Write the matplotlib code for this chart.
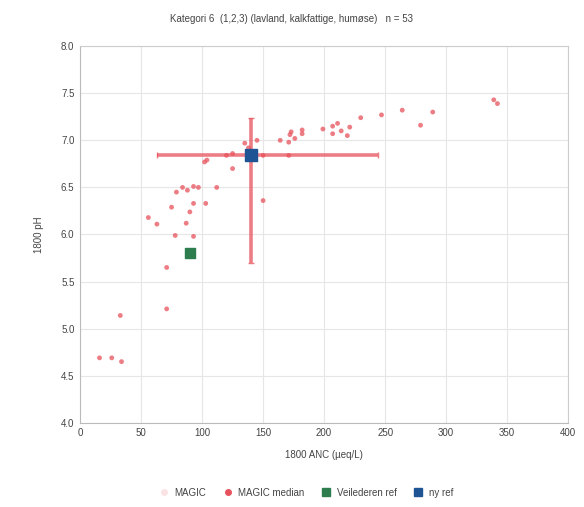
import matplotlib
matplotlib.use("Agg")
import matplotlib.pyplot as plt
from matplotlib.lines import Line2D

plt.rcParams['font.family'] = ['Liberation Sans', 'DejaVu Sans']

# MAGIC median points (ANC, pH)
anc = [145, 164, 171, 172, 173, 182, 182, 199, 207, 211, 207, 219, 221, 230, 247,
       264, 279, 289, 339, 342,
       120, 150, 171, 125, 125, 102, 135, 138,
       79, 84, 93, 97, 112, 75, 93, 103, 90, 56, 63, 87, 78, 93, 71,
       71, 33, 16, 26, 34, 150, 104, 88, 176, 214]
ph = [7.00, 7.00, 6.98, 7.06, 7.09, 7.11, 7.07, 7.12, 7.15, 7.18, 7.07, 7.05, 7.14, 7.24, 7.27,
      7.32, 7.16, 7.30, 7.43, 7.39,
      6.84, 6.84, 6.84, 6.86, 6.70, 6.77, 6.97, 6.92,
      6.45, 6.50, 6.51, 6.50, 6.50, 6.29, 6.33, 6.33, 6.24, 6.18, 6.11, 6.12, 5.99, 5.98, 5.65,
      5.21, 5.14, 4.69, 4.69, 4.65, 6.36, 6.79, 6.47, 7.02, 7.10]

# Overall median with range
med_anc = 140
med_ph = 6.84
anc_range = [63, 244]
ph_range = [5.70, 7.24]

# Reference points
veil_anc, veil_ph = 90, 5.80
ny_anc, ny_ph = 140, 6.84

title = "Kategori 6  (1,2,3) (lavland, kalkfattige, humøse)   n = 53"

fig = plt.figure(figsize=(5.84, 5.07), dpi=100)
ax = fig.add_axes([0.137, 0.166, 0.836, 0.743])

red = '#e8525c'
ax.errorbar([med_anc], [med_ph],
            xerr=[[med_anc - anc_range[0]], [anc_range[1] - med_anc]],
            yerr=[[med_ph - ph_range[0]], [ph_range[1] - med_ph]],
            fmt='none', ecolor=red, elinewidth=2.6, capsize=2.5, alpha=0.75, zorder=2)
ax.scatter(anc, ph, s=12, color=red, alpha=0.75, edgecolors='none', zorder=3)
ax.scatter([veil_anc], [veil_ph], marker='s', s=60, color='#2e7d4f', zorder=4)
ax.scatter([ny_anc], [ny_ph], marker='s', s=85, color='#1f5494', zorder=5)

ax.set_xlim(0, 400)
ax.set_ylim(4.0, 8.0)
ax.set_xticks(range(0, 401, 50))
ax.set_yticks([4.0 + 0.5 * i for i in range(9)])
ax.set_yticklabels([f"{4.0 + 0.5 * i:.1f}" for i in range(9)])
ax.tick_params(labelsize=7, length=0, colors='#444444', pad=4)
ax.grid(True, color='#e6e6e6', linewidth=0.8)
ax.set_axisbelow(True)
for sp in ax.spines.values():
    sp.set_color('#cccccc')
    sp.set_linewidth(0.8)
ax.spines['left'].set_color('#bbbbbb')
ax.spines['bottom'].set_color('#bbbbbb')

ax.set_xlabel("1800 ANC (µeq/L)", fontsize=7, color='#444444', labelpad=8)
ax.set_ylabel("1800 pH", fontsize=7, color='#444444', labelpad=12)
fig.text(0.5, 0.962, title, ha='center', va='center', fontsize=7, color='#444444')

handles = [
    Line2D([], [], marker='o', linestyle='none', markersize=4, color='#fbe3e5'),
    Line2D([], [], marker='o', linestyle='none', markersize=4, color=red),
    Line2D([], [], marker='s', linestyle='none', markersize=6, color='#2e7d4f'),
    Line2D([], [], marker='s', linestyle='none', markersize=6, color='#1f5494'),
]
labels = ["MAGIC", "MAGIC median", "Veilederen ref", "ny ref"]
fig.legend(handles, labels, loc='center', bbox_to_anchor=(0.52, 0.028), ncol=4,
           frameon=False, fontsize=7, handletextpad=0.1, columnspacing=1.2,
           labelcolor='#444444')

fig.savefig("out.png", dpi=100, facecolor='white')
